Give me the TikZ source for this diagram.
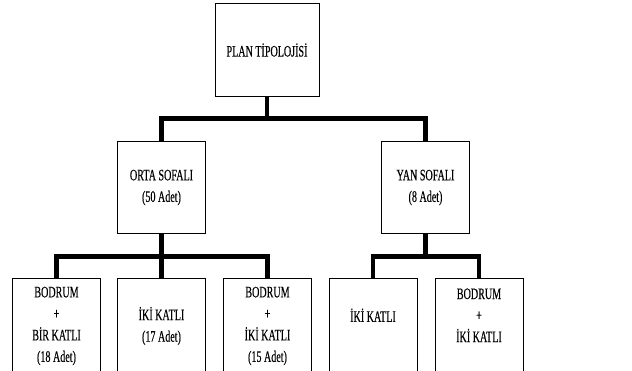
\documentclass[tikz,border=0pt]{standalone}
\usepackage{fontspec}
\setmainfont{Liberation Serif}[FakeStretch=0.63,FakeBold=0.3]
\usetikzlibrary{positioning}
\tikzset{
  box/.style={draw, line width=0.9pt, inner sep=0pt, align=center,
    minimum width=88pt, minimum height=92pt,
    font=\fontsize{16}{21.5}\selectfont},
  bar/.style={line width=4.5pt}
}
\begin{document}
\begin{tikzpicture}[x=1pt,y=-1pt]
        \clip (0,0) rectangle (632,370);
        \fill[white] (0,0) rectangle (632,370);
        \node[box, minimum width=104pt, minimum height=93pt] (plan) at (267,50) {PLAN TİPOLOJİSİ};
        \node[box] (orta) at (161.5,187.5) {ORTA SOFALI\\(50 Adet)};
        \node[box] (yan)  at (425.5,187.5) {YAN SOFALI\\(8 Adet)};

        \node[box, minimum height=96pt] (ob1) at (56.5,326)  {BODRUM\\+\\BİR KATLI\\(18 Adet)};
        \node[box, minimum height=96pt] (ob2) at (161.5,326) {İKİ KATLI\\(17 Adet)};
        \node[box, minimum height=96pt] (ob3) at (267.5,326) {BODRUM\\+\\İKİ KATLI\\(15 Adet)};
        \node[box, minimum height=96pt] (yb1) at (373,326)   {İKİ KATLI\\~};
        \node[box, minimum height=96pt] (yb2) at (479,326)   {BODRUM\\+\\İKİ KATLI\\~};

        \coordinate (J)  at (267,118.5);
        \coordinate (JO) at (161.5,256.5);
        \coordinate (JY) at (425.5,256.5);

        \draw[bar] (plan.south) -- (J);
        \draw[bar] (orta.north) |- (yan.north |- J) -- (yan.north);
        \draw[bar] (orta.south) -- (JO);
        \draw[bar] (ob1.north) |- (ob3.north |- JO) -- (ob3.north);
        \draw[bar] (JO) -- (ob2.north);
        \draw[bar] (yan.south) -- (JY);
        \draw[bar] (yb1.north) |- (yb2.north |- JY) -- (yb2.north);
      \end{tikzpicture}
\end{document}
